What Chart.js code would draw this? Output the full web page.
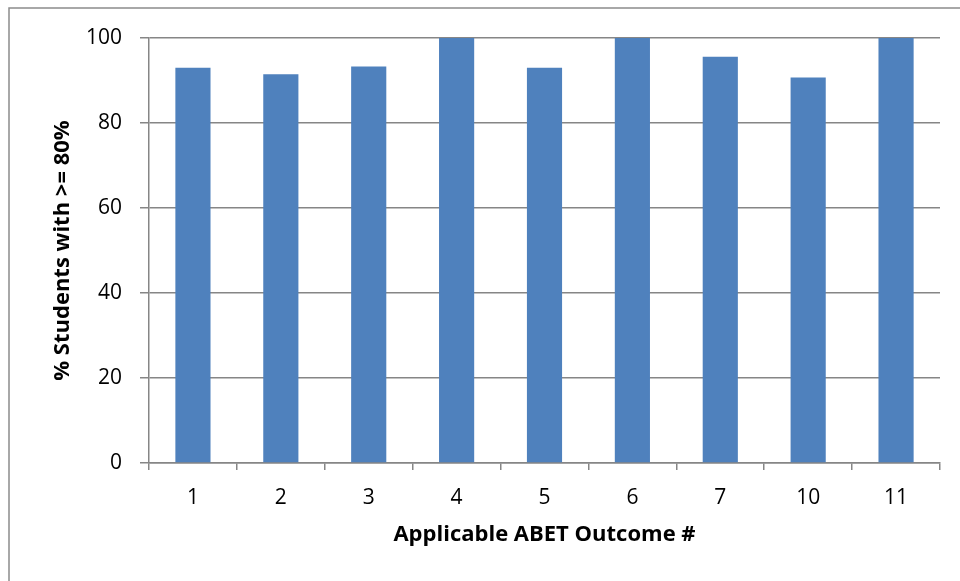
<!DOCTYPE html>
<html>
<head>
<meta charset="utf-8">
<script src="https://cdn.jsdelivr.net/npm/chart.js@4"></script>
<style>
  html, body { margin: 0; padding: 0; background: #ffffff; }
  #wrap { width: 960px; height: 581px; position: relative; }
</style>
</head>
<body>
<div id="wrap"><canvas id="c" width="960" height="581"></canvas></div>
<script>
// ABET outcome categories and share of students scoring at least 80%
const outcomes = ['1', '2', '3', '4', '5', '6', '7', '10', '11'];
const pctStudents = [93.0, 91.5, 93.3, 100, 93.0, 100, 95.6, 90.7, 100];
const yTicks = [0, 20, 40, 60, 80, 100];

const axisGray = '#868686';
const fontFamily = '"Open Sans", "DejaVu Sans", sans-serif';

// Thin frame around the whole chart, open toward the right/bottom edge
const frame = {
  id: 'frame',
  beforeDraw(chart) {
    const ctx = chart.ctx;
    ctx.save();
    ctx.strokeStyle = '#8c8c8c';
    ctx.lineWidth = 1.5;
    ctx.strokeRect(9, 8, 1000, 1000);
    ctx.restore();
  }
};

new Chart(document.getElementById('c'), {
  type: 'bar',
  data: {
    labels: outcomes,
    datasets: [{
      data: pctStudents,
      backgroundColor: '#4F81BD',
      borderWidth: 0,
      categoryPercentage: 1.0,
      barPercentage: 0.4
    }]
  },
  options: {
    responsive: false,
    animation: false,
    devicePixelRatio: 1,
    layout: { padding: { left: 0, top: 38, right: 20, bottom: 0 } },
    plugins: {
      legend: { display: false },
      tooltip: { enabled: false }
    },
    scales: {
      x: {
        grid: {
          display: true,
          offset: true,
          drawOnChartArea: false,
          drawTicks: true,
          tickLength: 7,
          color: axisGray,
          lineWidth: 1.5
        },
        border: { display: true, color: axisGray, width: 1.5 },
        ticks: {
          color: '#000',
          font: { family: fontFamily, size: 21 },
          padding: 15,
          maxRotation: 0
        },
        title: {
          display: true,
          text: 'Applicable ABET Outcome #',
          color: '#000',
          font: { family: fontFamily, size: 22, weight: 'bold' },
          padding: { top: 0, bottom: 33 }
        },
        afterFit(scale) { scale.height = 118; }
      },
      y: {
        min: 0,
        max: 100,
        afterBuildTicks(scale) { scale.ticks = yTicks.map(v => ({ value: v })); },
        grid: {
          color: axisGray,
          lineWidth: 1.5,
          drawTicks: true,
          tickLength: 9
        },
        border: { display: true, color: axisGray, width: 1.5 },
        ticks: {
          color: '#000',
          font: { family: fontFamily, size: 21 },
          padding: 18
        },
        title: {
          display: true,
          text: '% Students with >= 80%',
          color: '#000',
          font: { family: fontFamily, size: 22, weight: 'bold' },
          padding: { top: 50, bottom: 0 }
        },
        afterFit(scale) { scale.width = 149; }
      }
    }
  },
  plugins: [frame]
});
</script>
</body>
</html>
